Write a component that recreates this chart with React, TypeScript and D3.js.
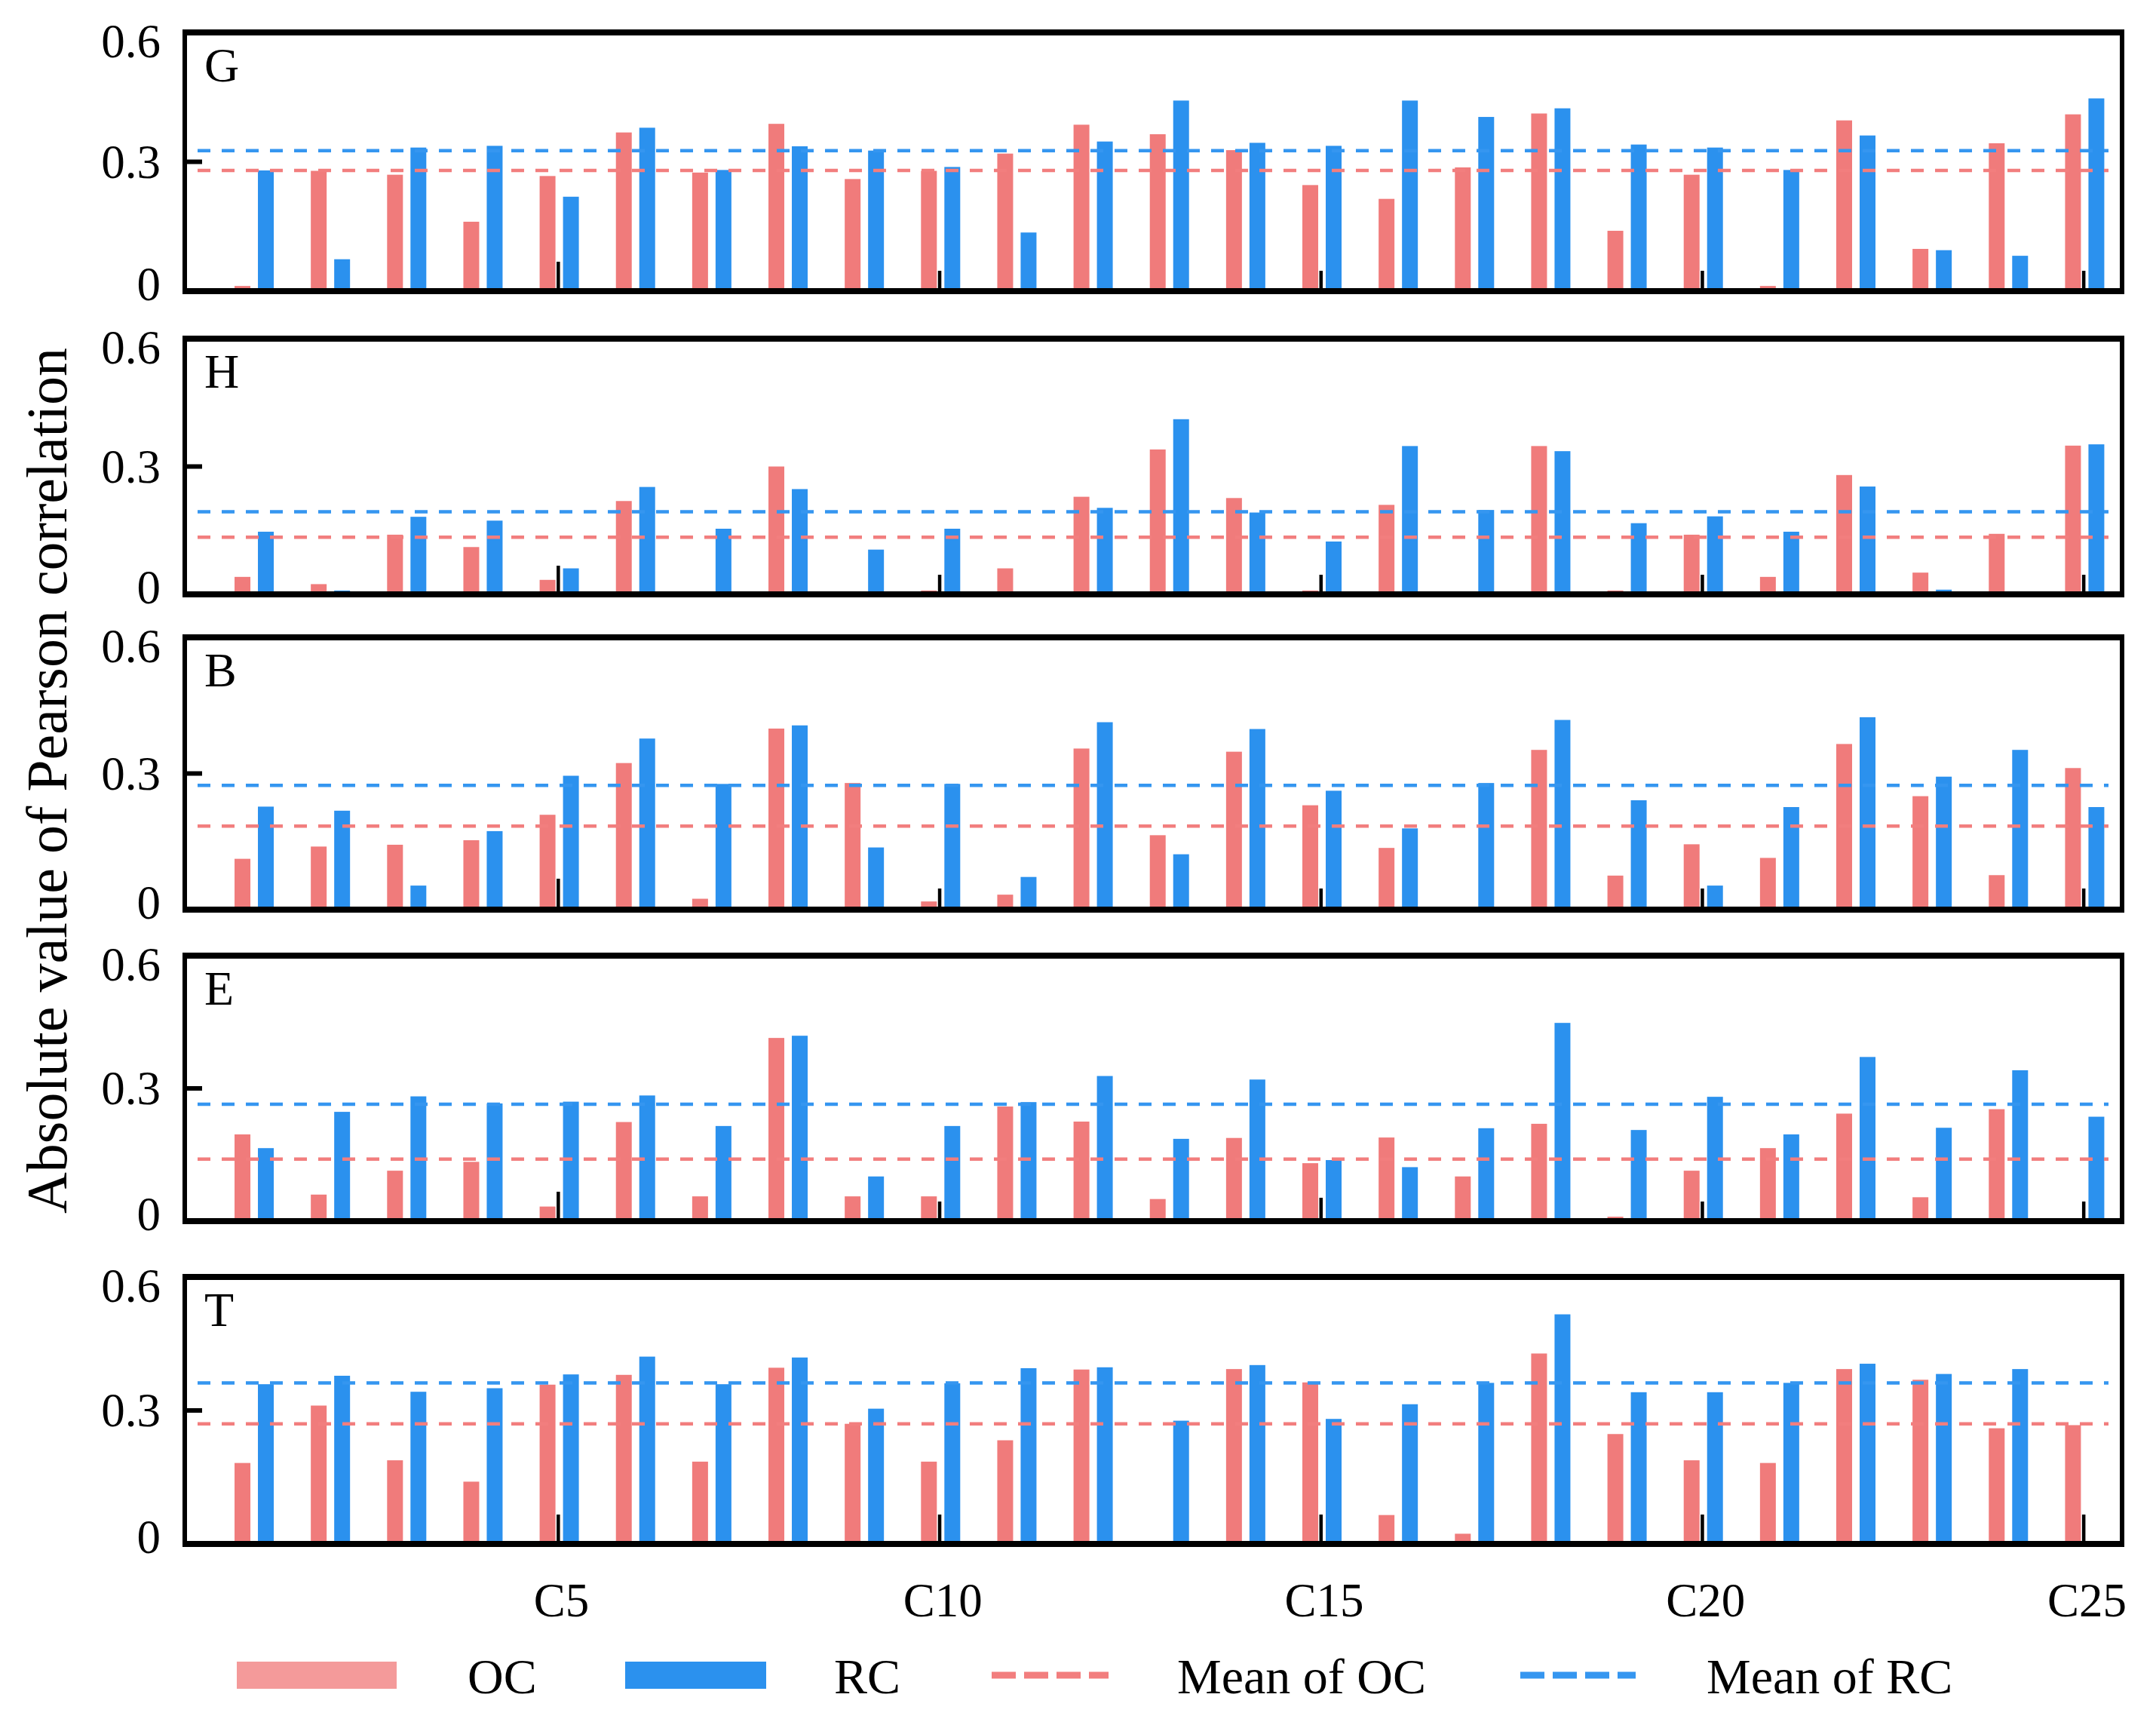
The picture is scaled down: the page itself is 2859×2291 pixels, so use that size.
import React from "react";
import * as d3 from "d3";

// ---------- data ----------
const categories = d3.range(1, 26).map((i) => `C${i}`);
const panelNames = ["G", "H", "B", "E", "T"];
const xTickLabels = ["C5", "C10", "C15", "C20", "C25"];
const yTicks = [0, 0.3, 0.6];

const ocG = [0.012, 0.279, 0.27, 0.161, 0.267, 0.368, 0.275, 0.388, 0.26, 0.279, 0.319, 0.386, 0.364, 0.327, 0.246, 0.214, 0.287, 0.412, 0.14, 0.27, 0.012, 0.396, 0.098, 0.343, 0.41];
const rcG = [0.28, 0.074, 0.333, 0.337, 0.219, 0.379, 0.281, 0.336, 0.326, 0.288, 0.136, 0.347, 0.442, 0.344, 0.337, 0.442, 0.404, 0.424, 0.34, 0.333, 0.281, 0.361, 0.095, 0.082, 0.447];

const ocH = [0.041, 0.024, 0.14, 0.111, 0.034, 0.219, 0.007, 0.3, 0.004, 0.009, 0.061, 0.229, 0.34, 0.226, 0.009, 0.21, 0.007, 0.348, 0.009, 0.14, 0.041, 0.28, 0.051, 0.142, 0.349];
const rcH = [0.147, 0.009, 0.182, 0.173, 0.061, 0.252, 0.154, 0.247, 0.105, 0.154, 0, 0.203, 0.411, 0.192, 0.124, 0.348, 0.198, 0.336, 0.167, 0.183, 0.147, 0.253, 0.011, 0.002, 0.352];

const ocB = [0.112, 0.139, 0.143, 0.153, 0.209, 0.323, 0.024, 0.399, 0.279, 0.018, 0.033, 0.355, 0.164, 0.348, 0.23, 0.136, 0, 0.352, 0.075, 0.144, 0.114, 0.365, 0.25, 0.076, 0.312];
const rcB = [0.227, 0.218, 0.053, 0.173, 0.295, 0.377, 0.277, 0.406, 0.137, 0.277, 0.072, 0.413, 0.122, 0.398, 0.262, 0.179, 0.279, 0.418, 0.241, 0.053, 0.226, 0.424, 0.293, 0.352, 0.226];

const ocE = [0.196, 0.06, 0.114, 0.134, 0.033, 0.224, 0.056, 0.414, 0.056, 0.056, 0.259, 0.225, 0.05, 0.188, 0.131, 0.189, 0.101, 0.22, 0.01, 0.114, 0.165, 0.243, 0.054, 0.253, 0];
const rcE = [0.165, 0.247, 0.282, 0.266, 0.27, 0.284, 0.215, 0.419, 0.101, 0.215, 0.269, 0.328, 0.186, 0.32, 0.138, 0.122, 0.21, 0.448, 0.206, 0.281, 0.196, 0.371, 0.211, 0.341, 0.236];

const ocT = [0.182, 0.311, 0.188, 0.14, 0.358, 0.38, 0.185, 0.396, 0.27, 0.185, 0.233, 0.392, 0, 0.393, 0.363, 0.065, 0.023, 0.428, 0.247, 0.188, 0.182, 0.393, 0.369, 0.26, 0.267];
const rcT = [0.359, 0.378, 0.342, 0.35, 0.381, 0.421, 0.359, 0.419, 0.304, 0.361, 0.395, 0.397, 0.277, 0.402, 0.281, 0.314, 0.362, 0.516, 0.341, 0.341, 0.362, 0.405, 0.382, 0.393, 0];

const ocSeries = [ocG, ocH, ocB, ocE, ocT];
const rcSeries = [rcG, rcH, rcB, rcE, rcT];
const meanOC = [0.28, 0.134, 0.184, 0.14, 0.27];
const meanRC = [0.326, 0.194, 0.274, 0.264, 0.362];

const legendLabels = ["OC", "RC", "Mean of OC", "Mean of RC"];

// ---------- layout / style ----------
const W = 2859;
const H = 2291;
const plotLeft = 245;
const plotRight = 2814;
const panelTops = [43, 449, 845, 1267, 1693];
const panelBottoms = [386, 788, 1206, 1619, 2047];
const tickLens = [
  [39, 27, 27, 27, 27],
  [38, 26, 26, 26, 26],
  [41, 28, 28, 28, 28],
  [39, 26, 31, 26, 26],
  [39, 39, 39, 39, 39],
];
const RED = "#F07B7B";
const BLUE = "#2B91EE";
const RED_LINE = "#F27E7E";
const BLUE_LINE = "#3596F0";
const FONT = "'Liberation Serif', 'Times New Roman', serif";

const x = d3.scaleLinear().domain([0.1, 25.5]).range([plotLeft, plotRight]);
const barW = 21;

function Panel({ idx }: { idx: number }) {
  const top = panelTops[idx];
  const bottom = panelBottoms[idx];
  const y = d3.scaleLinear().domain([0, 0.6]).range([bottom, top]);
  const oc = ocSeries[idx];
  const rc = rcSeries[idx];
  const labelOffset = (v: number) => (v === 0.6 ? 12 : v === 0 ? -9 : 0);
  return (
    <g>
      {categories.map((c, i) => {
        const cx = x(i + 1);
        return (
          <g key={c}>
            <rect x={cx - 25} y={y(oc[i])} width={barW} height={y(0) - y(oc[i])} fill={RED} />
            <rect x={cx + 6} y={y(rc[i])} width={barW} height={y(0) - y(rc[i])} fill={BLUE} />
          </g>
        );
      })}
      <line x1={plotLeft + 17} x2={plotRight - 18} y1={y(meanRC[idx])} y2={y(meanRC[idx])}
        stroke={BLUE_LINE} strokeWidth={4.5} strokeDasharray="17 15" />
      <line x1={plotLeft + 17} x2={plotRight - 18} y1={y(meanOC[idx])} y2={y(meanOC[idx])}
        stroke={RED_LINE} strokeWidth={4.5} strokeDasharray="17 15" />
      {xTickLabels.map((lab, k) => {
        const i = categories.indexOf(lab);
        const cx = x(i + 1);
        const len = tickLens[idx][k];
        return <rect key={lab} x={cx - 2.5} y={y(0) - len} width={4.5} height={len} fill="#000" />;
      })}
      {/* y tick at 0.3 */}
      <line x1={plotLeft} x2={plotLeft + 23} y1={y(0.3)} y2={y(0.3)} stroke="#000" strokeWidth={6} />
      {/* frame */}
      <line x1={plotLeft - 3} x2={plotRight + 3} y1={top} y2={top} stroke="#000" strokeWidth={8} />
      <line x1={plotLeft - 3} x2={plotRight + 3} y1={bottom} y2={bottom} stroke="#000" strokeWidth={8} />
      <line x1={plotLeft} x2={plotLeft} y1={top} y2={bottom} stroke="#000" strokeWidth={6} />
      <line x1={plotRight} x2={plotRight} y1={top} y2={bottom} stroke="#000" strokeWidth={6} />
      {yTicks.map((v) => (
        <text key={v} x={213} y={y(v) + labelOffset(v)} dy="0.34em" textAnchor="end"
          fontFamily={FONT} fontSize={63} fill="#000">
          {v === 0 ? "0" : v.toFixed(1)}
        </text>
      ))}
      <text x={plotLeft + 26} y={top + 65} fontFamily={FONT} fontSize={64} fill="#000">
        {panelNames[idx]}
      </text>
    </g>
  );
}

export default function App() {
  const legendY = 2221;
  return (
    <svg width={W} height={H} viewBox={`0 0 ${W} ${H}`}
      style={{ position: "absolute", left: 0, top: 0, background: "#fff" }}>
      <rect x={0} y={0} width={W} height={H} fill="#fff" />
      {panelNames.map((p, i) => (
        <Panel key={p} idx={i} />
      ))}
      {xTickLabels.map((lab) => {
        const i = categories.indexOf(lab);
        return (
          <text key={lab} x={x(i + 1) + 4} y={2143} textAnchor="middle" fontFamily={FONT} fontSize={63} fill="#000">
            {lab}
          </text>
        );
      })}
      <text transform={`translate(88,1035) rotate(-90)`} textAnchor="middle" fontFamily={FONT}
        fontSize={76} fill="#000">
        Absolute value of Pearson correlation
      </text>
      {/* legend */}
      <rect x={314} y={2203} width={212} height={36} fill="#F49A9A" />
      <text x={620} y={2245} fontFamily={FONT} fontSize={66} fill="#000">{legendLabels[0]}</text>
      <rect x={829} y={2203} width={187} height={36} fill={BLUE} />
      <text x={1106} y={2245} fontFamily={FONT} fontSize={66} fill="#000">{legendLabels[1]}</text>
      <line x1={1315} x2={1470} y1={legendY} y2={legendY} stroke={RED_LINE} strokeWidth={9} strokeDasharray="32 11" />
      <text x={1561} y={2245} fontFamily={FONT} fontSize={66} fill="#000">{legendLabels[2]}</text>
      <line x1={2016} x2={2169} y1={legendY} y2={legendY} stroke={BLUE_LINE} strokeWidth={9} strokeDasharray="32 11" />
      <text x={2263} y={2245} fontFamily={FONT} fontSize={66} fill="#000">{legendLabels[3]}</text>
    </svg>
  );
}
